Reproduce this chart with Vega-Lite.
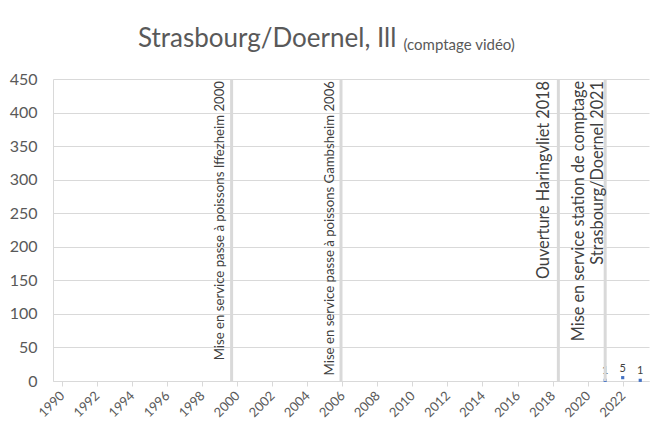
{
  "$schema": "https://vega.github.io/schema/vega-lite/v6.json",
  "width": 596,
  "height": 302,
  "autosize": {"type": "none"},
  "padding": {"left": 53, "top": 79, "right": 2, "bottom": 46},
  "background": "white",
  "config": {
    "font": "Lato",
    "view": {"stroke": null},
    "axisY": {
      "tickCount": 10,
      "ticks": false,
      "tickSize": 0,
      "labelPadding": 16,
      "labelColor": "#595959",
      "labelFontSize": 16,
      "domainColor": "#d9d9d9",
      "gridColor": "#d9d9d9",
      "labelOverlap": false
    }
  },
  "title": {
    "text": "Strasbourg/Doernel, Ill",
    "anchor": "start",
    "frame": "group",
    "dx": 85,
    "offset": -36,
    "baseline": "alphabetic",
    "fontSize": 26,
    "fontWeight": "normal",
    "color": "#595959"
  },
  "datasets": {
    "counts": [
      {"year": 2021, "count": 1},
      {"year": 2022, "count": 5},
      {"year": 2023, "count": 1}
    ],
    "events": [
      {"pos": 2000.19, "kind": "small", "label": "Mise en service passe à poissons Iffezheim 2000"},
      {"pos": 2006.43, "kind": "small", "label": "Mise en service passe à poissons Gambsheim 2006"},
      {"pos": 2018.83, "kind": "large", "label": "Ouverture Haringvliet 2018"},
      {"pos": 2021.5, "kind": "double", "label": "Mise en service station de comptage\nStrasbourg/Doernel 2021"}
    ]
  },
  "layer": [
    {
      "data": {"name": "counts"},
      "encoding": {
        "x": {
          "field": "year",
          "type": "ordinal",
          "scale": {
            "domain": [1990, 1991, 1992, 1993, 1994, 1995, 1996, 1997, 1998, 1999, 2000, 2001, 2002, 2003, 2004, 2005, 2006, 2007, 2008, 2009, 2010, 2011, 2012, 2013, 2014, 2015, 2016, 2017, 2018, 2019, 2020, 2021, 2022, 2023],
            "paddingInner": 0,
            "paddingOuter": 0
          },
          "axis": {
            "values": [1990, 1992, 1994, 1996, 1998, 2000, 2002, 2004, 2006, 2008, 2010, 2012, 2014, 2016, 2018, 2020, 2022],
            "title": null,
            "labelAngle": -45,
            "bandPosition": 0,
            "labelOffset": -4,
            "labelColor": "#595959",
            "labelFontSize": 13,
            "labelPadding": 3,
            "domainColor": "#d9d9d9",
            "tickColor": "#d9d9d9",
            "tickSize": 5,
            "grid": false
          }
        },
        "y": {
          "field": "count",
          "type": "quantitative",
          "title": null,
          "scale": {"domain": [0, 450], "nice": false}
        }
      },
      "layer": [
        {"mark": {"type": "point", "shape": "square", "filled": true, "size": 10, "color": "#4472C4", "opacity": 1}},
        {"mark": {"type": "text", "dy": -9, "fontSize": 11, "color": "#404040"}, "encoding": {"text": {"field": "count"}}}
      ]
    },
    {
      "data": {"name": "events"},
      "encoding": {
        "x": {
          "field": "pos",
          "type": "quantitative",
          "scale": {"domain": [1990, 2024], "nice": false, "zero": false},
          "axis": {
            "orient": "top",
            "title": "(comptage vidéo)",
            "domain": false,
            "ticks": false,
            "labels": false,
            "grid": false,
            "titleFontSize": 15,
            "titleFontWeight": "normal",
            "titleColor": "#595959",
            "titleAlign": "left",
            "titleAnchor": null,
            "titleBaseline": "alphabetic",
            "titleX": 350,
            "titleY": -30
          }
        }
      },
      "layer": [
        {
          "mark": {"type": "rule", "color": "#d9d9d9", "strokeWidth": 3},
          "encoding": {"y": {"datum": 0, "type": "quantitative"}, "y2": {"datum": 450}}
        },
        {
          "transform": [{"filter": "datum.kind === 'small'"}],
          "mark": {"type": "text", "angle": 270, "align": "right", "baseline": "alphabetic", "dx": -2, "dy": -7.5, "fontSize": 13.2, "color": "#404040"},
          "encoding": {"y": {"datum": 450, "type": "quantitative"}, "text": {"field": "label"}}
        },
        {
          "transform": [{"filter": "datum.kind === 'large'"}],
          "mark": {"type": "text", "angle": 270, "align": "right", "baseline": "alphabetic", "dx": -2, "dy": -9, "fontSize": 16.3, "color": "#404040"},
          "encoding": {"y": {"datum": 450, "type": "quantitative"}, "text": {"field": "label"}}
        },
        {
          "transform": [{"filter": "datum.kind === 'double'"}],
          "mark": {"type": "text", "angle": 270, "align": "right", "baseline": "alphabetic", "dx": -2, "dy": -21, "lineHeight": 19, "lineBreak": "\n", "fontSize": 16.3, "color": "#404040"},
          "encoding": {"y": {"datum": 450, "type": "quantitative"}, "text": {"field": "label"}}
        }
      ]
    }
  ],
  "resolve": {"scale": {"x": "independent"}}
}
